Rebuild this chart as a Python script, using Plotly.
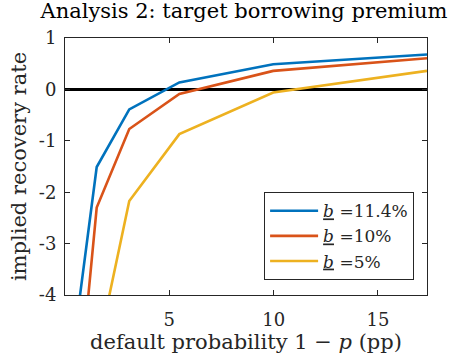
import plotly.graph_objects as go

default_prob = [0.5, 1.52, 3.08, 5.48, 9.98, 17.35]
series_names = ["<i><u>b</u></i> =11.4%", "<i><u>b</u></i> =10%", "<i><u>b</u></i> =5%"]
recovery_114 = [-4.69, -1.51, -0.39, 0.135, 0.49, 0.68]
recovery_10 = [-6.64, -2.30, -0.77, -0.09, 0.36, 0.605]
recovery_5 = [-9.0, -5.17, -2.17, -0.87, -0.06, 0.36]
colors = ["#0072BD", "#D95319", "#EDB120"]

FONT = "DejaVu Serif"
fig = go.Figure()
for name, ys, c in zip(series_names, [recovery_114, recovery_10, recovery_5], colors):
    fig.add_trace(go.Scatter(x=default_prob, y=ys, mode="lines", name=name,
                             line=dict(color=c, width=2.6)))

axis_common = dict(showline=True, linecolor="#262626", linewidth=1, mirror="ticks",
                   ticks="inside", ticklen=5, tickcolor="#262626", showgrid=False,
                   tickfont=dict(family=FONT, size=18, color="#262626"))
fig.update_layout(
    width=456, height=360,
    margin=dict(l=65, r=29, t=38, b=63),
    plot_bgcolor="white", paper_bgcolor="white",
    title=dict(text="Analysis 2: target borrowing premium", x=0.535, xanchor="center",
               y=0.99, yanchor="top", font=dict(family=FONT, size=21, color="black")),
    xaxis=dict(range=[0, 17.35], tickvals=[5, 10, 15], zeroline=False,
               ticklabelstandoff=8,
               title=dict(text="default probability 1 − <i>p</i> (pp)", standoff=4,
                          font=dict(family=FONT, size=21, color="#262626")),
               **axis_common),
    yaxis=dict(range=[-4, 1], tickvals=[1, 0, -1, -2, -3, -4], ticktext=["1", "0", "-1", "-2", "-3", "-4"],
               zeroline=True, zerolinecolor="black", zerolinewidth=3,
               ticklabelstandoff=4,
               title=dict(text="implied recovery rate", standoff=6,
                          font=dict(family=FONT, size=21, color="#262626")),
               **axis_common),
    legend=dict(x=0.55, y=0.40, xanchor="left", yanchor="top", bgcolor="white",
                bordercolor="#262626", borderwidth=1, itemwidth=48,
                font=dict(family=FONT, size=17, color="#262626"), tracegroupgap=0),
    showlegend=True,
)
fig.write_html("out.html")
